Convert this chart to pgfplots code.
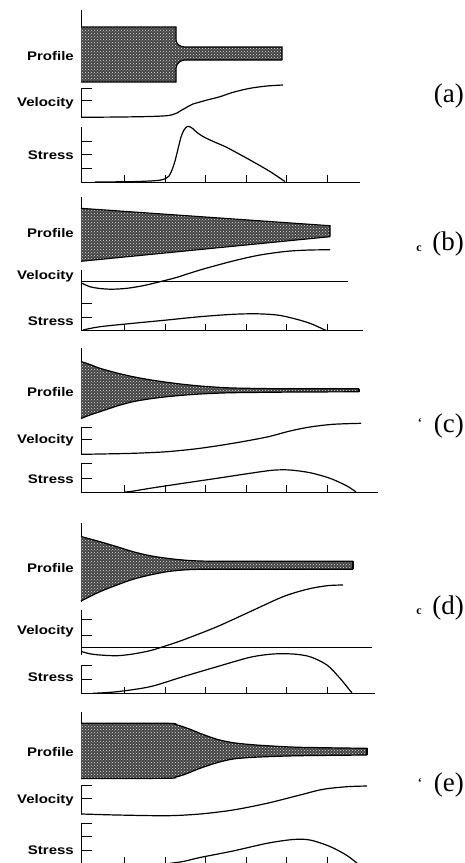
\documentclass[border=0pt]{standalone}
\usepackage{fontspec}
\setmainfont{Liberation Serif}
\newfontfamily\labfont[FakeStretch=1.2]{Liberation Sans}
\usepackage{pgfplots}
\pgfplotsset{compat=1.18}
\usepgfplotslibrary{fillbetween}
\usetikzlibrary{patterns}

% all axes use 1pt per pixel of the scanned figure, y counted downwards
\pgfplotsset{
  panel/.style={scale only axis, clip=false, y dir=reverse, anchor=south west,
    xmin=81, xmax=380, width=299pt,
    axis x line=none, axis y line*=left, axis line style={-, line width=0.9pt},
    xtick=\empty, ytick=\empty, xticklabels={}, yticklabels={},
    tick align=inside, major tick length=11pt, tick style={black, line width=0.9pt}},
  base/.style={scale only axis, clip=false, anchor=south west,
    xmin=81, ymin=0, ymax=1, height=8pt,
    axis x line*=bottom, axis y line=none, axis line style={-, line width=0.9pt},
    xtick={124,165.5,205,246,286.5,327}, xticklabels={}, ytick=\empty, yticklabels={},
    tick align=inside, major tick length=7pt, tick style={black, line width=0.9pt}},
  curve/.style={black, line width=1.2pt, smooth, tension=0.5, mark=none},
  edge/.style={black, line width=1.1pt, mark=none},
  shade/.style={fill=black!74, draw=none,
    postaction={pattern=crosshatch dots, pattern color=white!90!black}},
}
\tikzset{
  lab/.style={anchor=base east, inner sep=0pt, font=\labfont\bfseries\fontsize{12.5}{14}\selectfont},
  tag/.style={anchor=base east, inner sep=0pt, font=\fontsize{27}{30}\selectfont},
  spot/.style={anchor=base east, inner sep=0pt, font=\bfseries\fontsize{12}{12}\selectfont},
}

\begin{document}
\begin{tikzpicture}

% ---------------- (a) ----------------
\begin{axis}[panel, set layers, at={(81pt,-82pt)}, ymin=10, ymax=82, height=72pt]
\addplot[edge, name path=ta] coordinates {(81,27) (176,27) (176,40) (177,43) (179,45.3) (182,46.6) (185,47) (282,47) (282,60)};
\addplot[edge, name path=ba] coordinates {(81,82) (176,82) (176,68) (177,64.8) (179,62.3) (182,60.6) (185,60) (282,60)};
\addplot[shade] fill between[of=ta and ba];
\end{axis}
\begin{axis}[panel, at={(81pt,-118pt)}, ymin=88, ymax=118, height=30pt, ytick={88,100}]
\addplot[curve] coordinates {(82,117.3) (120,117) (150,116.5) (167,115.7) (173,114.5) (177,113) (181,110.5)
  (185,108.3) (189,106) (193,104) (200,102) (207,100) (220,96.7) (233,92.3) (250,88.3) (267,86) (283,85)};
\end{axis}
\begin{axis}[panel, at={(81pt,-182pt)}, ymin=127, ymax=182, height=55pt, ytick={141,154.5,168}]
\addplot[curve, tension=0.35] coordinates {(95,182) (130,181.7) (150,181) (160,180.2) (165,178.8) (169,176)
  (172,170) (175,161) (178,149) (181,137) (184,130) (187,126.6) (190,126.8) (193,128.8) (197,132.5)
  (203,136.5) (210,140) (218,143.5) (226,147) (240,154.5) (255,162.8) (270,171.5) (285,181.5)};
\end{axis}
\begin{axis}[base, at={(81pt,-182pt)}, xmax=360, width=279pt]
\end{axis}

% ---------------- (b) ----------------
\begin{axis}[panel, set layers, at={(81pt,-262pt)}, ymin=197, ymax=262, height=65pt]
\addplot[edge, name path=tb] coordinates {(81,208.3) (330,225.7) (330,236.7)};
\addplot[edge, name path=bb] coordinates {(81,261.3) (330,236.7)};
\addplot[shade] fill between[of=tb and bb];
\end{axis}
\begin{axis}[panel, at={(81pt,-292pt)}, ymin=270, ymax=292, height=22pt]
\addplot[edge, line width=0.9pt] coordinates {(81,281.7) (348,281.7)};
\addplot[curve] coordinates {(82,283.3) (90,286.7) (100,288.5) (112,289.2) (127,288.3) (143,285.7) (160,281.7)
  (177,277.3) (200,270) (233,261) (260,255) (287,251.3) (310,250) (330,249.8)};
\end{axis}
\begin{axis}[panel, at={(81pt,-330.5pt)}, ymin=292, ymax=330.5, height=38.5pt, ytick={303,317}]
\addplot[curve] coordinates {(83,330) (100,326.7) (133,323.3) (167,320) (200,316.7) (233,314.3) (257,313.8)
  (277,315) (293,318.3) (310,323.3) (326,330.5)};
\end{axis}
\begin{axis}[base, at={(81pt,-330.5pt)}, xmax=363, width=282pt]
\end{axis}

% ---------------- (c) ----------------
\begin{axis}[panel, set layers, at={(81pt,-418.5pt)}, ymin=348, ymax=418.5, height=70.5pt]
\addplot[curve, name path=tc] coordinates {(81,361.5) (90,364.5) (100,368.3) (117,373) (133,376.7) (150,379.8)
  (167,382.3) (183,384.3) (200,386) (217,387.2) (233,388) (267,388.6) (300,388.8) (359,388.8)};
\addplot[curve, name path=bc] coordinates {(81,418.5) (90,415) (100,411.7) (117,406) (133,401.7) (150,398.8)
  (167,396.7) (183,395.2) (200,394) (217,393.2) (233,392.7) (267,392.3) (300,392) (359,391.8)};
\addplot[edge] coordinates {(359,388.8) (359,391.8)};
\addplot[shade] fill between[of=tc and bc];
\end{axis}
\begin{axis}[panel, at={(81pt,-455pt)}, ymin=427, ymax=455, height=28pt, ytick={427,439.3}]
\addplot[curve] coordinates {(82,454.3) (100,454) (133,453.3) (167,451.7) (200,448.3) (233,443.3) (267,437)
  (290,431) (310,427) (333,424.3) (361,423.3)};
\end{axis}
\begin{axis}[panel, at={(81pt,-492pt)}, ymin=463.3, ymax=492, height=28.7pt, ytick={463.3,478.3}]
\addplot[curve] coordinates {(125,492) (132,491.3) (150,488.3) (183,483.3) (217,478.3) (250,473.3) (273,470.2)
  (290,470) (310,472.7) (330,478.3) (347,486) (356,492)};
\end{axis}
\begin{axis}[base, at={(81pt,-492pt)}, xmax=378, width=297pt]
\end{axis}

% ---------------- (d) ----------------
\begin{axis}[panel, set layers, at={(81pt,-601.7pt)}, ymin=523.3, ymax=601.7, height=78.4pt]
\addplot[curve, name path=td] coordinates {(81,536.5) (100,541.7) (117,546.7) (133,551.7) (150,555.7) (167,558.3)
  (183,560) (200,561) (230,561.3) (353,561.3)};
\addplot[curve, name path=bd] coordinates {(81,601) (100,591.7) (117,585) (133,579.3) (150,575) (167,571.7)
  (183,570) (200,569.3) (230,569.2) (353,569.2)};
\addplot[edge] coordinates {(353,561.3) (353,569.2)};
\addplot[shade] fill between[of=td and bd];
\end{axis}
\begin{axis}[panel, at={(81pt,-655pt)}, ymin=610, ymax=655, height=45pt, ytick={619.3,635}]
\addplot[edge, line width=0.9pt] coordinates {(81,647.7) (372,647.7)};
\addplot[curve] coordinates {(82,651.7) (90,653.8) (100,655) (117,655.7) (133,654) (150,650.7) (160,647.7)
  (183,640) (217,626.7) (250,611.7) (283,596.7) (307,589.3) (327,585.7) (343,585)};
\end{axis}
\begin{axis}[panel, at={(81pt,-693.5pt)}, ymin=665, ymax=693.5, height=28.5pt, ytick={665,679.3}]
\addplot[curve] coordinates {(93,693.3) (117,691.7) (150,686.7) (183,676.7) (217,666.7) (250,657.3) (273,654)
  (293,654) (310,656.7) (327,665) (340,678.3) (352,693)};
\end{axis}
\begin{axis}[base, at={(81pt,-693.5pt)}, xmax=375, width=294pt]
\end{axis}

% ---------------- (e) ----------------
\begin{axis}[panel, set layers, at={(81pt,-778.5pt)}, ymin=711.7, ymax=778.5, height=66.8pt]
\addplot[curve, name path=te] coordinates {(81,723.3) (167,723.3) (175,724.3) (183,726.7) (192,730) (200,733.3)
  (217,739.3) (233,742.7) (250,744.5) (267,745.7) (300,747.3) (367,748.3)};
\addplot[curve, name path=be] coordinates {(81,778.5) (167,778.3) (175,777.2) (183,775) (192,771.5) (200,768.3)
  (217,762.7) (233,759) (250,757.5) (267,756.7) (300,755.7) (367,755)};
\addplot[edge] coordinates {(367,748.3) (367,755)};
\addplot[shade] fill between[of=te and be];
\end{axis}
\begin{axis}[panel, at={(81pt,-815pt)}, ymin=785, ymax=815, height=30pt, ytick={785,798.3}]
\addplot[curve] coordinates {(82,814) (117,815) (167,815.7) (200,814) (233,810) (267,803.3) (300,795)
  (323,789.3) (347,786.7) (367,786)};
\end{axis}
\begin{axis}[panel, at={(81pt,-864pt)}, ymin=823.3, ymax=864, height=40.7pt, ytick={823.3,836.7,850.7}]
\addplot[curve] coordinates {(165,864) (183,861.5) (200,857.5) (233,851) (267,843.3) (293,839.5) (310,840)
  (330,846.5) (347,855.5) (358,864)};
\end{axis}
\begin{axis}[base, at={(81pt,-864pt)}, xmax=370, width=289pt]
\end{axis}

% ---------------- labels ----------------
\node[lab] at (74pt,-60.2pt) {Profile};
\node[lab] at (74pt,-106.2pt) {Velocity};
\node[lab] at (74pt,-159.5pt) {Stress};
\node[lab] at (74pt,-237.2pt) {Profile};
\node[lab] at (74pt,-279.5pt) {Velocity};
\node[lab] at (74pt,-325.2pt) {Stress};
\node[lab] at (74pt,-396.8pt) {Profile};
\node[lab] at (74pt,-443.5pt) {Velocity};
\node[lab] at (74pt,-483.5pt) {Stress};
\node[lab] at (74pt,-572.8pt) {Profile};
\node[lab] at (74pt,-634.5pt) {Velocity};
\node[lab] at (74pt,-681.2pt) {Stress};
\node[lab] at (74pt,-756.2pt) {Profile};
\node[lab] at (74pt,-803.8pt) {Velocity};
\node[lab] at (74pt,-854.5pt) {Stress};

\node[tag] at (464pt,-102pt) {(a)};
\node[tag] at (464pt,-250pt) {(b)};
\node[tag] at (464pt,-432pt) {(c)};
\node[tag] at (464pt,-614pt) {(d)};
\node[tag] at (464pt,-791pt) {(e)};
\node[spot] at (422pt,-251pt) {c};
\node[spot] at (422pt,-426pt) {‘};
\node[spot] at (422pt,-614pt) {c};
\node[spot] at (422pt,-786pt) {‘};

\pgfresetboundingbox
\useasboundingbox (0pt,0pt) rectangle (464pt,-863pt);
\end{tikzpicture}
\end{document}
